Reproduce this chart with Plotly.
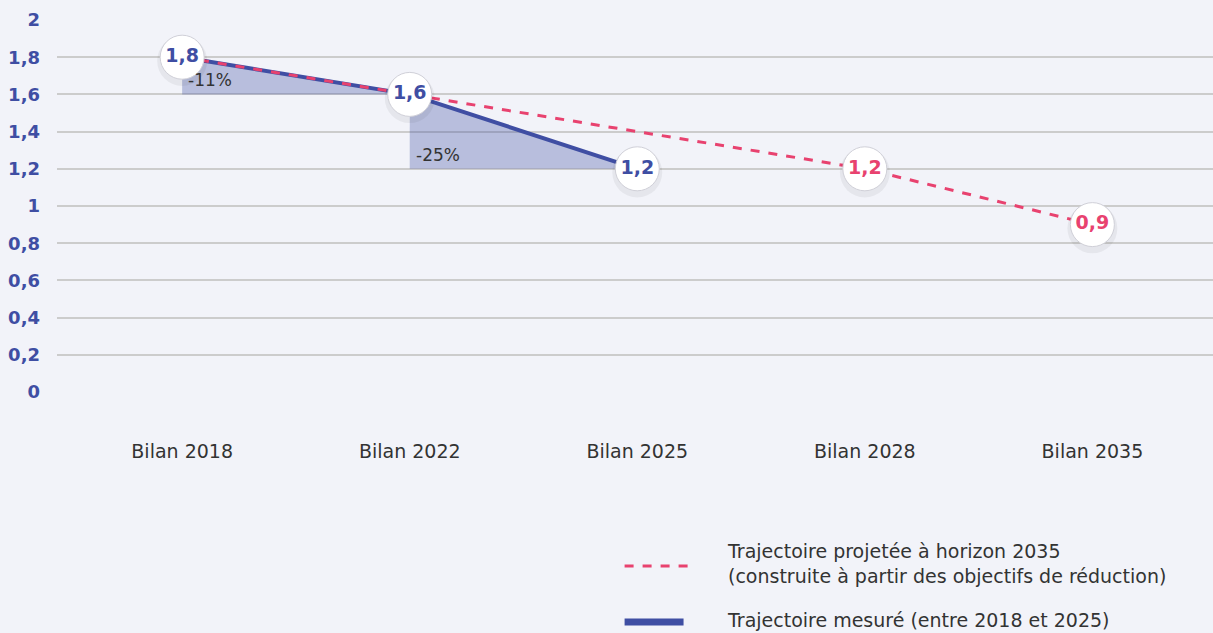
import plotly.graph_objects as go

categories = ["Bilan 2018", "Bilan 2022", "Bilan 2025", "Bilan 2028", "Bilan 2035"]
measured = [1.8, 1.6, 1.2, None, None]
projected = [1.8, 1.6, None, 1.2, 0.9]
circle_values = [1.8, 1.6, 1.2, 1.2, 0.9]
circle_labels = ["1,8", "1,6", "1,2", "1,2", "0,9"]
circle_series = ["m", "m", "m", "p", "p"]
pct_labels = ["-11%", "-25%"]
ytick_vals = [0, 0.2, 0.4, 0.6, 0.8, 1, 1.2, 1.4, 1.6, 1.8, 2]

BLUE = "#3f4ea3"
PINK = "#e8426f"
FILL = "rgba(63,78,163,0.32)"
BG = "#f2f3f9"
FONT = "DejaVu Sans"

fig = go.Figure()

# shaded triangles
for i in range(2):
    x0, x1 = categories[i], categories[i + 1]
    y0, y1 = measured[i], measured[i + 1]
    fig.add_trace(go.Scatter(
        x=[x0, x1, x0, x0], y=[y0, y1, y1, y0], mode="lines",
        fill="toself", fillcolor=FILL, line=dict(width=0),
        hoverinfo="skip", showlegend=False))
    fig.add_annotation(x=x0, y=y1 + 0.075, text=pct_labels[i],
                       showarrow=False, xanchor="left", yanchor="middle", xshift=4,
                       font=dict(family=FONT, size=17, color="#333"))

fig.add_trace(go.Scatter(x=categories, y=measured, mode="lines",
                         line=dict(color=BLUE, width=4), connectgaps=False,
                         name="Trajectoire mesuré (entre 2018 et 2025)", showlegend=False))
fig.add_trace(go.Scatter(x=categories, y=projected, mode="lines",
                         line=dict(color=PINK, width=3, dash="dash"), connectgaps=True,
                         name="Trajectoire projetée à horizon 2035", showlegend=False))

# soft shadow under circles
fig.add_trace(go.Scatter(x=categories, y=[v - 0.02 for v in circle_values], mode="markers",
                         marker=dict(size=50, color="rgba(0,0,0,0.05)", line=dict(width=0)),
                         hoverinfo="skip", showlegend=False))
fig.add_trace(go.Scatter(
    x=categories, y=circle_values, mode="markers+text", text=circle_labels,
    textposition="middle center",
    textfont=dict(family=FONT, size=19, weight="bold",
                  color=[BLUE if s == "m" else PINK for s in circle_series]),
    marker=dict(size=44, color="white", line=dict(color="#d0d0d8", width=1)),
    hoverinfo="skip", showlegend=False))

# custom legend
fig.add_shape(type="line", xref="paper", yref="paper", x0=0.491, x1=0.548, y0=-0.468, y1=-0.468,
              line=dict(color=PINK, width=3, dash="dash"))
fig.add_shape(type="line", xref="paper", yref="paper", x0=0.491, x1=0.542, y0=-0.618, y1=-0.618,
              line=dict(color=BLUE, width=7))
fig.add_annotation(xref="paper", yref="paper", x=0.578, y=-0.462, xanchor="left", yanchor="middle",
                   align="left", showarrow=False,
                   text="Trajectoire projetée à horizon 2035<br>(construite à partir des objectifs de réduction)",
                   font=dict(family=FONT, size=19, color="#333"))
fig.add_annotation(xref="paper", yref="paper", x=0.578, y=-0.613, xanchor="left", yanchor="middle",
                   align="left", showarrow=False,
                   text="Trajectoire mesuré (entre 2018 et 2025)",
                   font=dict(family=FONT, size=19, color="#333"))

fig.update_layout(
    width=1213, height=633,
    margin=dict(l=57, r=0, t=20, b=241),
    paper_bgcolor=BG, plot_bgcolor=BG,
    separators=", ",
    showlegend=False,
    xaxis=dict(type="category", range=[-0.55, 4.53], showgrid=False, zeroline=False,
               showline=False, ticks="", ticklabelstandoff=46,
               tickfont=dict(family=FONT, size=19, color="#333")),
    yaxis=dict(range=[0, 2], tickvals=ytick_vals, showgrid=True, gridcolor="#cccccc",
               gridwidth=1.5, zeroline=False, showline=False, ticks="",
               ticklabelstandoff=16,
               tickfont=dict(family=FONT, size=18, weight="bold", color=BLUE)),
)

fig.write_html("out.html", config={"displayModeBar": False},
               post_script="document.body.style.margin='0';document.body.style.background='" + BG + "';")
